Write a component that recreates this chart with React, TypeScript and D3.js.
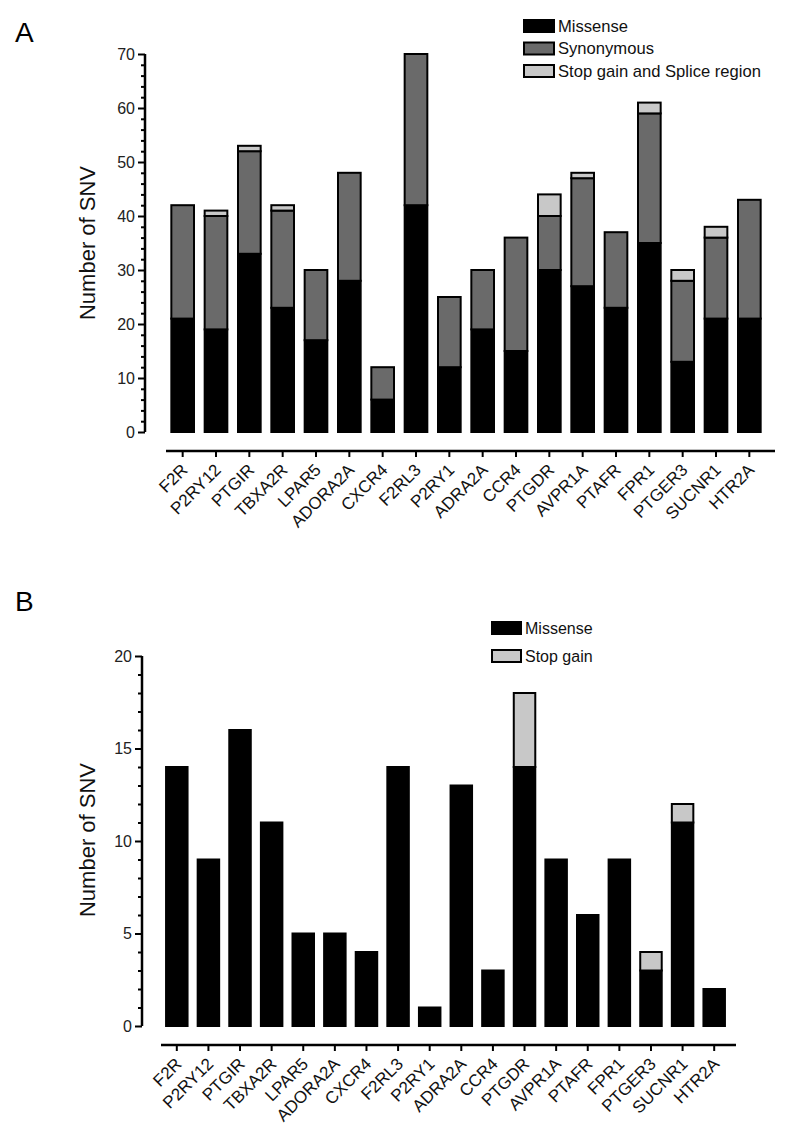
import React, { useEffect, useRef } from "react";
import * as d3 from "d3";

const genes = [
  "F2R", "P2RY12", "PTGIR", "TBXA2R", "LPAR5", "ADORA2A", "CXCR4", "F2RL3", "P2RY1",
  "ADRA2A", "CCR4", "PTGDR", "AVPR1A", "PTAFR", "FPR1", "PTGER3", "SUCNR1", "HTR2A",
];

// Panel A
const missenseA = [21, 19, 33, 23, 17, 28, 6, 42, 12, 19, 15, 30, 27, 23, 35, 13, 21, 21];
const synonymousA = [21, 21, 19, 18, 13, 20, 6, 28, 13, 11, 21, 10, 20, 14, 24, 15, 15, 22];
const stopSpliceA = [0, 1, 1, 1, 0, 0, 0, 0, 0, 0, 0, 4, 1, 0, 2, 2, 2, 0];
const yTicksA = [0, 10, 20, 30, 40, 50, 60, 70];

// Panel B
const missenseB = [14, 9, 16, 11, 5, 5, 4, 14, 1, 13, 3, 14, 9, 6, 9, 3, 11, 2];
const stopGainB = [0, 0, 0, 0, 0, 0, 0, 0, 0, 0, 0, 4, 0, 0, 0, 1, 1, 0];
const yTicksB = [0, 5, 10, 15, 20];

const FONT = "'Liberation Sans', Arial, Helvetica, sans-serif";
const C_MISSENSE = "#000000";
const C_SYN = "#6a6a6a";
const C_STOP = "#c8c8c8";

type Series = { key: string; label: string; values: number[]; color: string };

type PanelCfg = {
  letter: string;
  letterY: number;
  yMax: number;
  yTop: number;
  yBottom: number;
  yAxisX: number;
  majorTicks: number[];
  minorStep: number;
  xStart: number;
  xEnd: number;
  xLineEnd: number;
  xAxisY: number;
  series: Series[];
  legendX: number;
  legendY: number;
  legendGap: number;
  legendW: number;
  legendFont: number;
  titleY: number;
};

function drawPanel(svg: d3.Selection<SVGSVGElement, unknown, null, undefined>, cfg: PanelCfg) {
  const g = svg.append("g");
  const y = d3.scaleLinear().domain([0, cfg.yMax]).range([cfg.yBottom, cfg.yTop]);
  const x = d3.scaleBand<string>().domain(genes).range([cfg.xStart, cfg.xEnd]).paddingInner(0.32).paddingOuter(0.16);

  // panel letter
  g.append("text")
    .attr("x", 15)
    .attr("y", cfg.letterY)
    .attr("font-family", FONT)
    .attr("font-size", 28)
    .attr("fill", "#000")
    .text(cfg.letter);

  // y title
  g.append("text")
    .attr("transform", `translate(95,${cfg.titleY}) rotate(-90)`)
    .attr("text-anchor", "middle")
    .attr("font-family", FONT)
    .attr("font-size", 22)
    .attr("fill", "#111")
    .text("Number of SNV");

  // bars
  const rows = genes.map((gname, i) => {
    const r: any = { gene: gname };
    cfg.series.forEach((s) => (r[s.key] = s.values[i]));
    return r;
  });
  const stack = d3.stack<any>().keys(cfg.series.map((s) => s.key))(rows);
  stack.forEach((layer, li) => {
    const color = cfg.series[li].color;
    g.append("g")
      .selectAll("rect")
      .data(layer.filter((d) => d[1] - d[0] > 0))
      .join("rect")
      .attr("x", (d) => x(d.data.gene)!)
      .attr("width", x.bandwidth())
      .attr("y", (d) => y(d[1]))
      .attr("height", (d) => y(d[0]) - y(d[1]))
      .attr("fill", color)
      .attr("stroke", "#000")
      .attr("stroke-width", 2);
  });

  // y axis
  const minorTicks = d3.range(0, cfg.yMax + 0.001, cfg.minorStep).filter((v) => !cfg.majorTicks.includes(v));
  const yMinor = d3.axisLeft(y).tickValues(minorTicks).tickSize(4).tickFormat(() => "");
  const yMajor = d3.axisLeft(y).tickValues(cfg.majorTicks).tickSize(7).tickPadding(3).tickFormat(d3.format("d"));
  const ga = g.append("g").attr("transform", `translate(${cfg.yAxisX},0)`);
  ga.append("g").call(yMinor).call((s) => s.select(".domain").remove());
  ga.append("g").call(yMajor);
  ga.selectAll("path.domain").attr("stroke", "#000").attr("stroke-width", 2.5).attr("d", `M0,${cfg.yTop}V${cfg.yBottom}`);
  ga.selectAll("line").attr("stroke", "#000").attr("stroke-width", 2);
  ga.selectAll("text").attr("font-family", FONT).attr("font-size", 16).attr("fill", "#222");

  // x axis
  const xa = g.append("g").attr("transform", `translate(0,${cfg.xAxisY})`);
  xa.call(d3.axisBottom(x).tickSize(6).tickSizeOuter(0).tickFormat(() => ""));
  xa.select(".domain").attr("stroke", "#000").attr("stroke-width", 2.5).attr("d", `M${cfg.xStart},0H${cfg.xLineEnd}`);
  xa.selectAll("line").attr("stroke", "#000").attr("stroke-width", 2);
  xa.selectAll("g.tick text").remove();
  g.append("g")
    .selectAll("text")
    .data(genes)
    .join("text")
    .attr("transform", (d) => `translate(${x(d)! + x.bandwidth() / 2 + 6},${cfg.xAxisY + 20}) rotate(-45)`)
    .attr("text-anchor", "end")
    .attr("font-family", FONT)
    .attr("font-size", 17)
    .attr("fill", "#111")
    .text((d) => d);

  // legend
  const lg = g.append("g");
  cfg.series.forEach((s, i) => {
    const cy = cfg.legendY + i * cfg.legendGap;
    lg.append("rect")
      .attr("x", cfg.legendX)
      .attr("y", cy - 6)
      .attr("width", cfg.legendW)
      .attr("height", 12)
      .attr("fill", s.color)
      .attr("stroke", "#000")
      .attr("stroke-width", 2);
    lg.append("text")
      .attr("x", cfg.legendX + cfg.legendW + 4)
      .attr("y", cy)
      .attr("dy", "0.36em")
      .attr("font-family", FONT)
      .attr("font-size", cfg.legendFont)
      .attr("fill", "#111")
      .text(s.label);
  });
}

export default function App() {
  const ref = useRef<SVGSVGElement>(null);
  useEffect(() => {
    if (!ref.current) return;
    const svg = d3.select(ref.current);
    svg.selectAll("*").remove();
    drawPanel(svg, {
      letter: "A",
      letterY: 42,
      yMax: 70,
      yTop: 54,
      yBottom: 432,
      yAxisX: 145,
      majorTicks: yTicksA,
      minorStep: 2,
      xStart: 166,
      xEnd: 766,
      xLineEnd: 775,
      xAxisY: 451,
      series: [
        { key: "missense", label: "Missense", values: missenseA, color: C_MISSENSE },
        { key: "synonymous", label: "Synonymous", values: synonymousA, color: C_SYN },
        { key: "stop", label: "Stop gain and Splice region", values: stopSpliceA, color: C_STOP },
      ],
      legendX: 524,
      legendY: 26,
      legendGap: 22.5,
      legendW: 30,
      legendFont: 16.6,
      titleY: 243,
    });
    drawPanel(svg, {
      letter: "B",
      letterY: 611,
      yMax: 20,
      yTop: 656,
      yBottom: 1026,
      yAxisX: 142,
      majorTicks: yTicksB,
      minorStep: 1,
      xStart: 161,
      xEnd: 730,
      xLineEnd: 736,
      xAxisY: 1045,
      series: [
        { key: "missense", label: "Missense", values: missenseB, color: C_MISSENSE },
        { key: "stop", label: "Stop gain", values: stopGainB, color: C_STOP },
      ],
      legendX: 492,
      legendY: 628,
      legendGap: 28,
      legendW: 29,
      legendFont: 16,
      titleY: 840,
    });
  }, []);
  return (
    <svg
      ref={ref}
      width={790}
      height={1130}
      style={{ position: "absolute", left: 0, top: 0, background: "#fff" }}
    />
  );
}
